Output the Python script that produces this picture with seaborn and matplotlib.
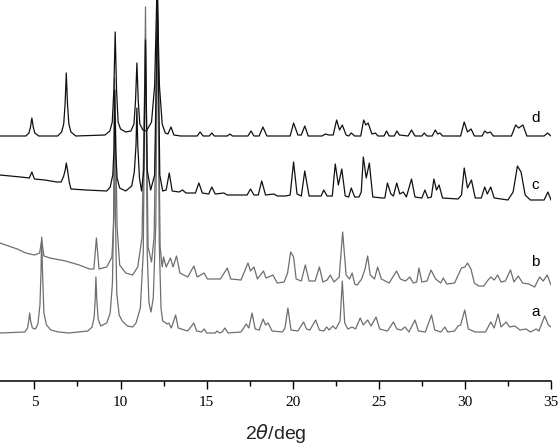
import numpy as np
import matplotlib
matplotlib.use('Agg')
import matplotlib.pyplot as plt
import seaborn as sns
from matplotlib.ticker import MultipleLocator

# PXRD traces: 2theta (deg) and intensity above each trace's own baseline (a.u.)
a_x = [3.0, 4.45, 4.6, 4.67, 4.72, 4.78, 4.88, 5.05, 5.2, 5.32, 5.38, 5.42, 5.47, 5.55, 5.7, 5.95, 6.4, 7.0,
       8.1, 8.35, 8.47, 8.53, 8.57, 8.62, 8.7, 8.85, 9.2, 9.4, 9.53, 9.6, 9.65, 9.7, 9.78, 9.92, 10.1,
       10.4, 10.7, 10.9, 11.15, 11.32, 11.45, 11.55, 11.65,
       11.77, 11.9, 12.05, 12.15, 12.25, 12.35, 12.45, 12.55, 12.7, 12.8, 12.95, 13.2, 13.35, 13.9, 14.26,
       14.42, 14.7, 14.86, 15.0, 15.5, 15.6, 15.75, 15.9, 16.06, 16.25, 17.0, 17.3, 17.45, 17.64, 17.82,
       18.05, 18.28, 18.42, 18.57, 18.8, 19.4, 19.55, 19.72, 19.9, 20.3, 20.63, 20.8, 21.0, 21.33, 21.55,
       21.8, 21.97, 22.12, 22.33, 22.5, 22.75, 22.88, 23.02, 23.2, 23.45, 23.65, 23.92, 24.1, 24.35, 24.55,
       24.84, 25.05, 25.5, 25.85, 26.05, 26.3, 26.52, 26.75, 27.1, 27.3, 27.7, 28.06, 28.25, 28.6, 28.84,
       29.0, 29.4, 29.6, 29.75, 29.99, 30.2, 30.6, 31.2, 31.5, 31.7, 31.93, 32.1, 32.4, 32.6, 32.9, 33.2,
       33.56, 33.8, 34.14, 34.3, 34.63, 34.85, 35.0]
a_y = [0, 1, 5, 12, 20, 12, 5, 4, 9, 28, 60, 96, 60, 20, 8, 3, 1, 0,
       2, 6, 16, 34, 56, 34, 14, 7, 10, 20, 50, 120, 255, 120, 40, 18, 12,
       7, 6, 10, 25, 80, 326, 80, 30,
       21, 35, 110, 345, 90, 25, 12, 11, 9, 10, 5, 18, 5, 2, 10,
       2, 1, 4, 0, 0, 2, 0, 1, 5, 0, 1, 9, 5, 20, 4,
       3, 14, 8, 10, 2, 1, 5, 25, 3, 2, 11, 4, 3, 13, 3,
       2, 6, 3, 7, 4, 12, 52, 10, 4, 6, 4, 15, 8, 13, 7,
       16, 4, 2, 11, 4, 3, 6, 1, 13, 2, 1, 18, 3, 1, 6,
       1, 2, 7, 8, 23, 4, 1, 1, 11, 5, 19, 6, 11, 6, 7, 3,
       4, 1, 4, 2, 17, 8, 6]

b_x = [3.0, 3.5, 4.0, 4.5, 5.0, 5.3, 5.42, 5.55, 5.9, 6.8, 7.6, 8.2, 8.45, 8.6, 8.75, 9.2, 9.5, 9.62, 9.7,
       9.8, 9.95, 10.3, 10.7, 11.0, 11.25, 11.45, 11.6, 11.8, 11.95, 12.15, 12.3, 12.42, 12.5, 12.65, 12.9,
       13.05, 13.25, 13.45, 13.9, 14.26, 14.45, 14.85, 15.05, 15.8, 16.2, 16.4, 17.0, 17.4, 17.55, 17.75,
       17.95, 18.3, 18.45, 18.6, 18.85, 19.1, 19.5, 19.7, 19.88, 20.05, 20.2, 20.5, 20.73, 20.95, 21.3,
       21.55, 21.75, 22.0, 22.18, 22.4, 22.7, 22.9, 23.1, 23.3, 23.45, 23.6, 23.75, 24.0, 24.2, 24.35, 24.5,
       24.75, 24.93, 25.15, 25.6, 26.03, 26.25, 26.55, 26.8, 27.0, 27.2, 27.33, 27.5, 27.8, 28.03, 28.3,
       28.6, 28.74, 28.95, 29.4, 29.8, 30.0, 30.15, 30.35, 30.55, 30.8, 31.1, 31.3, 31.5, 31.7, 31.9, 32.1,
       32.35, 32.65, 32.85, 33.1, 33.35, 33.7, 34.05, 34.34, 34.55, 34.78, 35.0]
b_y = [44, 41, 38, 34, 32, 34, 47, 31, 29, 26, 22, 18, 18, 49, 18, 20, 30, 70, 170,
       60, 22, 14, 12, 20, 50, 250, 40, 25, 50, 270, 40, 20, 30, 20, 29,
       20, 31, 14, 10, 21, 10, 14, 8, 8, 19, 8, 7, 24, 16, 20,
       8, 16, 9, 10, 12, 4, 5, 14, 35, 30, 8, 6, 22, 6, 6,
       20, 5, 7, 12, 5, 10, 55, 12, 8, 14, 3, 2, 8, 18, 31, 12,
       8, 20, 8, 4, 16, 8, 6, 10, 4, 5, 19, 5, 6, 17, 8,
       4, 9, 3, 4, 19, 20, 24, 18, 4, 1, 1, 6, 10, 7, 12, 5,
       6, 17, 5, 11, 4, 3, 0, 10, 6, 12, 2]

c_x = [3.0, 3.6, 4.2, 4.7, 4.85, 5.0, 5.6, 6.3, 6.55, 6.7, 6.8, 6.85, 6.92, 7.02, 7.12, 8.0, 9.2, 9.4, 9.55,
       9.62, 9.67, 9.72, 9.8, 9.95, 10.3, 10.65, 10.8, 10.9, 10.95, 11.0, 11.1, 11.22, 11.35, 11.45, 11.55,
       11.75, 11.98, 12.15, 12.28,
       12.45, 12.65, 12.83, 13.0, 13.4, 13.6, 13.8, 14.35, 14.55, 14.75, 15.12, 15.3, 15.5, 16.0, 16.2,
       17.35, 17.55, 17.75, 18.0, 18.2, 18.42, 18.9, 19.1, 19.6, 19.85, 20.05, 20.25, 20.5, 20.7, 20.95,
       21.5, 21.65, 21.8, 22.0, 22.3, 22.47, 22.65, 22.85, 23.05, 23.25, 23.4, 23.6, 23.85, 23.98, 24.1,
       24.27, 24.45, 24.65, 25.2, 25.35, 25.5, 25.7, 25.85, 26.04, 26.22, 26.42, 26.6, 26.9, 27.1, 27.5,
       27.68, 27.85, 28.05, 28.2, 28.35, 28.5, 28.7, 29.6, 29.8, 29.96, 30.15, 30.38, 30.6, 30.95, 31.15,
       31.3, 31.5, 31.7, 32.5, 32.8, 33.05, 33.26, 33.5, 33.8, 34.6, 34.82, 35.0]
c_y = [25, 24, 23, 22, 28, 21, 20, 18, 18, 24, 31, 37, 30, 18, 11, 10, 9, 13, 25,
       50, 110, 50, 22, 12, 9, 14, 28, 55, 92, 55, 22, 9, 30, 160, 30,
       10, 25, 200, 25,
       9, 10, 27, 9, 8, 10, 7, 7, 17, 7, 6, 13, 6, 7, 5,
       5, 11, 5, 5, 19, 5, 6, 4, 4, 5, 38, 6, 4, 29, 4,
       4, 4, 10, 4, 4, 36, 15, 31, 4, 3, 12, 3, 3, 8, 43,
       22, 37, 3, 2, 2, 17, 6, 4, 17, 6, 8, 3, 21, 3, 2,
       10, 2, 3, 21, 10, 15, 2, 1, 5, 32, 12, 20, 2, 2, 13,
       6, 13, 2, 0, 8, 34, 28, 5, 0, 0, 8, 0]

d_x = [3.0, 4.5, 4.68, 4.77, 4.85, 4.93, 5.02, 5.25, 6.35, 6.58, 6.7, 6.78, 6.85, 6.92, 7.0, 7.12, 7.4,
       9.1, 9.38, 9.52, 9.61, 9.69, 9.77, 9.86, 10.0, 10.3, 10.6, 10.78, 10.87, 10.95, 11.03, 11.12, 11.3,
       11.5, 11.8, 11.98, 12.12, 12.26, 12.42,
       12.6, 12.75, 12.93, 13.1, 13.5, 14.45, 14.62, 14.8, 15.15, 15.3, 15.45, 16.2, 16.35, 16.5, 17.4,
       17.58, 17.75, 18.05, 18.27, 18.5, 19.6, 19.85, 20.05, 20.3, 20.5, 20.7, 20.9, 21.7, 21.9, 22.1,
       22.35, 22.55, 22.72, 22.88, 23.1, 23.25, 23.4, 23.6, 23.95, 24.12, 24.25, 24.38, 24.6, 24.8, 24.95,
       25.3, 25.45, 25.6, 25.9, 26.05, 26.2, 26.7, 26.9, 27.1, 27.5, 27.64, 27.8, 28.1, 28.28, 28.42,
       28.55, 28.7, 29.75, 29.96, 30.15, 30.36, 30.55, 31.0, 31.15, 31.3, 31.48, 31.65, 32.7, 32.95,
       33.12, 33.37, 33.6, 34.6, 34.8, 35.0]
d_y = [0, 0, 3, 9, 18, 9, 3, 0, 0, 4, 12, 32, 63, 32, 12, 4, 0,
       1, 5, 14, 45, 104, 45, 14, 7, 4, 5, 12, 35, 73, 35, 12, 6,
       5, 14, 50, 150, 50, 12,
       3, 2, 9, 1, 0, 0, 4, 0, 0, 3, 0, 0, 2, 0, 0,
       5, 0, 0, 9, 0, 0, 0, 13, 1, 1, 10, 0, 0, 2, 1,
       1, 16, 6, 11, 1, 0, 3, 0, 0, 16, 11, 13, 2, 3, 0,
       0, 5, 0, 0, 5, 1, 0, 6, 0, 0, 3, 0, 0, 6, 2,
       3, 0, 0, 14, 4, 7, 0, 0, 5, 3, 4, 0, 0, 11,
       8, 11, 0, 0, 3, 0]

labels = ['a', 'b', 'c', 'd']
offsets = [48, 94, 181, 245]
colors = ['#6e6e6e', '#6e6e6e', '#111111', '#111111']
label_dy = [21, 25, 15, 18]

sns.set_style('white')
fig = plt.figure(figsize=(5.59, 4.45), dpi=100)
ax = fig.add_axes([0.0, 64 / 445, 551 / 559, 381 / 445])

traces = [(a_x, a_y), (b_x, b_y), (c_x, c_y), (d_x, d_y)]
for (xs, ys), off, col, lab, dy in zip(traces, offsets, colors, labels, label_dy):
    yy = np.asarray(ys, dtype=float) + off
    sns.lineplot(x=xs, y=yy, color=col, linewidth=0.9, ax=ax, sort=False, estimator=None)
    ax.text(34.1, off + dy, lab, fontsize=11, family='Liberation Sans',
            ha='center', va='center', color='black')

ax.set_xlim(3, 35)
ax.set_ylim(0, 381)
for side in ['left', 'right', 'top']:
    ax.spines[side].set_visible(False)
ax.spines['bottom'].set_linewidth(1.1)
ax.spines['bottom'].set_color('black')
ax.set_yticks([])
ax.xaxis.set_major_locator(MultipleLocator(5))
ax.xaxis.set_minor_locator(MultipleLocator(2.5))
ax.tick_params(axis='x', which='major', direction='out', length=6, width=1, bottom=True,
               colors='black', pad=5)
ax.tick_params(axis='x', which='minor', direction='out', length=3.8, width=1, bottom=True, colors='black')
for t in ax.get_xticklabels():
    t.set_family('Liberation Serif')
    t.set_fontsize(11)

ax.set_xlabel('2$\\mathit{\\theta}$/deg', fontsize=14, family='Liberation Sans', labelpad=9)
ax.set_ylabel('')

fig.savefig('out.png', dpi=100)
plt.close(fig)
